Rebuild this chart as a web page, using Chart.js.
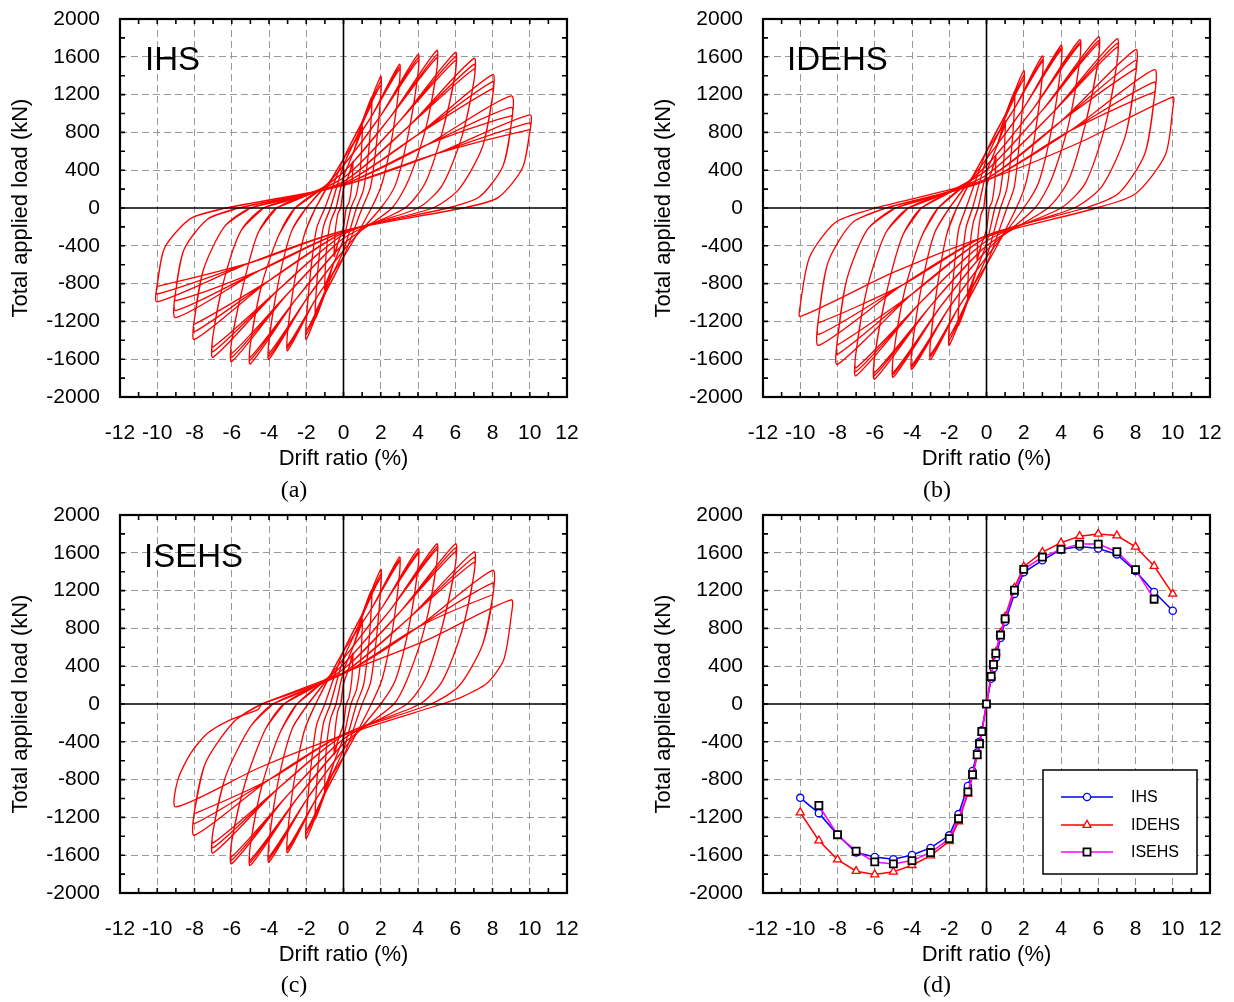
<!DOCTYPE html>
<html><head><meta charset="utf-8">
<script src="https://cdn.jsdelivr.net/npm/chart.js@4.4.1/dist/chart.umd.min.js"></script>
<style>
html,body{margin:0;padding:0;background:#fff}
body{width:1234px;height:1002px;position:relative;overflow:hidden}
canvas{position:absolute}
.cap{position:absolute;font-family:"Liberation Serif","Times New Roman",serif;font-size:24px;line-height:1;transform:translate(-50%,-50%);color:#000}
.nm{position:absolute;font-family:"Liberation Sans",Arial,sans-serif;font-size:33px;line-height:33px;color:#000}
</style></head><body>
<canvas id="ca" width="617" height="500" style="left:0;top:0"></canvas>
<canvas id="cb" width="591" height="500" style="left:643px;top:0"></canvas>
<canvas id="cc" width="617" height="500" style="left:0;top:496px"></canvas>
<canvas id="cd" width="591" height="500" style="left:643px;top:496px"></canvas>
<div class="nm" style="left:145px;top:42px">IHS</div>
<div class="nm" style="left:787px;top:42px">IDEHS</div>
<div class="nm" style="left:144px;top:539px">ISEHS</div>
<div class="cap" style="left:294px;top:489px">(a)</div>
<div class="cap" style="left:937px;top:489px">(b)</div>
<div class="cap" style="left:294px;top:984px">(c)</div>
<div class="cap" style="left:937px;top:984px">(d)</div>
<script>
// ---------- axis tick values ----------
const xTickVals = [-12,-10,-8,-6,-4,-2,0,2,4,6,8,10,12];
const yTickVals = [-2000,-1600,-1200,-800,-400,0,400,800,1200,1600,2000];

// ---------- backbone curves (panel d) ----------
const bbDrift = [-10,-9,-8,-7,-6,-5,-4,-3,-2,-1.5,-1,-0.75,-0.5,-0.375,-0.25,0,0.25,0.375,0.5,0.75,1,1.5,2,3,4,5,6,7,8,9,10];
const bbIHS = [-993,-1155,-1383,-1572,-1618,-1643,-1597,-1523,-1390,-1165,-867,-709,-512,-400,-277,0,267,379,488,698,870,1165,1393,1520,1636,1667,1646,1583,1407,1186,986];
const bbIDEHS = [-1148,-1446,-1646,-1769,-1804,-1776,-1706,-1604,-1453,-1243,-951,-762,-548,-435,-302,0,302,432,548,751,923,1229,1453,1608,1706,1776,1800,1783,1664,1460,1165];
const bbDriftS = [-9,-8,-7,-6,-5,-4,-3,-2,-1.5,-1,-0.75,-0.5,-0.375,-0.25,0,0.25,0.375,0.5,0.75,1,1.5,2,3,4,5,6,7,8,9];
const bbISEHS = [-1074,-1383,-1558,-1671,-1692,-1657,-1572,-1425,-1214,-930,-748,-537,-421,-291,0,291,418,537,730,902,1204,1425,1555,1636,1692,1692,1611,1422,1109];

// ---------- hysteresis key points (x drift %, y load kN) per drift level, first cycle ----------
const ihsLevels = [
 [-0.15,0, 0,200, 0.25,330, 0.5,488, 0.5,430, 0.45,250, 0.3,60, 0.15,0, 0,-200, -0.25,-340, -0.5,-512, -0.5,-450, -0.45,-260, -0.3,-60],
 [-0.4,0, 0,330, 0.5,573, 1,870, 1,760, 0.92,450, 0.7,150, 0.4,0, 0,-330, -0.5,-572, -1,-867, -1,-760, -0.92,-450, -0.7,-150],
 [-0.7,0, 0,450, 0.75,772, 1.5,1165, 1.5,1000, 1.35,600, 1.08,200, 0.7,0, 0,-450, -0.75,-772, -1.5,-1165, -1.5,-1000, -1.35,-600, -1.08,-200],
 [-1,0, 0,520, 1,913, 2,1393, 2,1200, 1.78,700, 1.45,220, 1,0, 0,-520, -1,-912, -2,-1390, -2,-1200, -1.78,-700, -1.45,-220],
 [-1.5,0, 0,520, 1.5,970, 3,1520, 3,1320, 2.65,800, 2.1,280, 1.5,0, 0,-520, -1.5,-966, -3,-1510, -3,-1310, -2.65,-800, -2.1,-280],
 [-2,0, 0,450, 2,979, 4,1625, 4,1420, 3.5,800, 2.8,250, 2,0, 0,-450, -2,-968, -4,-1600, -4,-1400, -3.5,-790, -2.8,-250],
 [-2.6,0, 0,380, 2.5,959, 5,1667, 5,1450, 4.4,830, 3.5,300, 2.6,0, 0,-380, -2.5,-952, -5,-1650, -5,-1440, -4.4,-820, -3.5,-300],
 [-3.6,0, 0,320, 3,917, 6,1646, 6,1420, 5.3,800, 4.4,270, 3.3,0, 0,-320, -3,-907, -6,-1625, -6,-1400, -5.35,-790, -4.6,-270],
 [-4.3,0, 0,280, 3.5,866, 7,1583, 7,1340, 6.35,750, 5.3,240, 4,0, 0,-280, -3.5,-865, -7,-1579, -7,-1340, -6.4,-750, -5.5,-240],
 [-5,0, 0,260, 4,778, 8,1411, 8,1180, 7.45,640, 6.2,200, 4.8,0, 0,-260, -4,-769, -8,-1392, -8,-1170, -7.5,-640, -6.4,-200],
 [-5.6,0, 0,250, 4.5,671, 9,1186, 9,880, 8.55,440, 7.3,118, 5.6,0, 0,-250, -4.5,-660, -9,-1160, -9,-870, -8.55,-435, -7.3,-118],
 [-6.3,0, 0,240, 5,576, 10,986, 10,800, 9.6,420, 8.3,110, 6.4,0, 0,-240, -5,-579, -10,-993, -10,-810, -9.6,-420, -8.2,-110]
];
// peaks of the repeated cycles at each level: [positive, negative]
const ihsRepeats = [
 [[470,-495],[460,-485]], [[840,-840],[820,-820]], [[1120,-1120],[1090,-1095]], [[1340,-1340],[1300,-1300]],
 [[1490,-1480],[1465,-1455]], [[1590,-1570],[1560,-1540]], [[1620,-1610],[1590,-1580]], [[1600,-1580],[1560,-1540]],
 [[1520,-1520],[1470,-1470]], [[1337,-1310],[1263,-1230]], [[1065,-1085],[976,-980]], [[900,-910],[830,-830]]
];

const idehsLevels = [
 [-0.15,0, 0,230, 0.25,373, 0.5,548, 0.5,480, 0.45,280, 0.3,70, 0.15,0, 0,-230, -0.25,-373, -0.5,-548, -0.5,-480, -0.45,-280, -0.3,-70],
 [-0.45,0, 0,380, 0.5,624, 1,923, 1,800, 0.92,470, 0.72,160, 0.45,0, 0,-380, -0.5,-637, -1,-951, -1,-820, -0.92,-480, -0.72,-160],
 [-0.75,0, 0,520, 0.75,839, 1.5,1229, 1.5,1060, 1.35,630, 1.1,210, 0.75,0, 0,-520, -0.75,-845, -1.5,-1243, -1.5,-1070, -1.35,-640, -1.1,-210],
 [-1.1,0, 0,600, 1,984, 2,1453, 2,1250, 1.78,730, 1.5,230, 1.1,0, 0,-600, -1,-984, -2,-1453, -2,-1250, -1.78,-730, -1.5,-230],
 [-1.6,0, 0,600, 1.5,1054, 3,1608, 3,1400, 2.65,840, 2.15,290, 1.6,0, 0,-600, -1.5,-1052, -3,-1604, -3,-1400, -2.65,-840, -2.15,-290],
 [-2,0, 0,520, 2,1060, 4,1720, 4,1500, 3.5,840, 2.8,270, 2,0, 0,-520, -2,-1054, -4,-1706, -4,-1490, -3.5,-840, -2.8,-270],
 [-2.6,0, 0,450, 2.5,1049, 5,1780, 5,1550, 4.4,880, 3.5,310, 2.6,0, 0,-450, -2.5,-1053, -5,-1790, -5,-1560, -4.4,-880, -3.5,-310],
 [-3.5,0, 0,400, 3,1035, 6,1810, 6,1560, 5.3,880, 4.4,290, 3.3,0, 0,-400, -3,-1035, -6,-1810, -6,-1560, -5.35,-880, -4.5,-290],
 [-4.2,0, 0,350, 3.5,998, 7,1790, 7,1530, 6.35,850, 5.3,260, 4,0, 0,-350, -3.5,-991, -7,-1775, -7,-1520, -6.4,-840, -5.4,-260],
 [-4.9,0, 0,310, 4,919, 8,1676, 8,1400, 7.45,760, 6.2,230, 4.7,0, 0,-310, -4,-910, -8,-1655, -8,-1390, -7.5,-755, -6.4,-230],
 [-5.4,0, 0,290, 4.5,818, 9,1464, 9,1150, 8.5,575, 7.1,155, 5.3,0, 0,-290, -4.5,-813, -9,-1453, -9,-1140, -8.5,-570, -7.2,-155],
 [-6,0, 0,300, 5,693, 10,1174, 10,1050, 9.6,560, 8,150, 5.9,0, 0,-300, -5,-682, -10,-1149, -10,-1030, -9.5,-520, -8.1,-150]
];
const idehsRepeats = [
 [[530,-530],[520,-520]], [[890,-915],[870,-895]], [[1190,-1200],[1160,-1170]], [[1400,-1400],[1360,-1360]],
 [[1570,-1570],[1550,-1550]], [[1690,-1680],[1670,-1660]], [[1750,-1760],[1730,-1740]], [[1770,-1770],[1740,-1740]],
 [[1740,-1730],[1700,-1690]], [[1563,-1549],[1475,-1450]], [[1333,-1337],[1227,-1213]], []
];

const isehsLevels = [
 [-0.15,0, 0,210, 0.25,357, 0.5,537, 0.5,470, 0.45,275, 0.3,70, 0.15,0, 0,-210, -0.25,-357, -0.5,-537, -0.5,-470, -0.45,-275, -0.3,-70],
 [-0.4,0, 0,350, 0.5,598, 1,902, 1,780, 0.92,460, 0.7,155, 0.4,0, 0,-350, -0.5,-611, -1,-930, -1,-800, -0.92,-470, -0.7,-160],
 [-0.7,0, 0,480, 0.75,806, 1.5,1204, 1.5,1040, 1.35,620, 1.08,205, 0.7,0, 0,-480, -0.75,-810, -1.5,-1214, -1.5,-1050, -1.35,-625, -1.08,-205],
 [-1,0, 0,560, 1,949, 2,1425, 2,1230, 1.78,720, 1.45,225, 1,0, 0,-560, -1,-949, -2,-1425, -2,-1230, -1.78,-720, -1.45,-225],
 [-1.5,0, 0,560, 1.5,1008, 3,1555, 3,1360, 2.65,810, 2.1,280, 1.5,0, 0,-560, -1.5,-1015, -3,-1572, -3,-1370, -2.65,-815, -2.1,-280],
 [-1.9,0, 0,480, 2,1002, 4,1641, 4,1440, 3.5,800, 2.8,260, 2,0, 0,-480, -2,-1017, -4,-1673, -4,-1460, -3.5,-810, -2.75,-260],
 [-2.5,0, 0,420, 2.5,993, 5,1694, 5,1480, 4.4,840, 3.5,300, 2.7,0, 0,-420, -2.5,-1000, -5,-1708, -5,-1490, -4.35,-840, -3.4,-300],
 [-3.2,0, 0,370, 3,966, 6,1694, 6,1460, 5.3,820, 4.4,270, 3.4,0, 0,-370, -3,-964, -6,-1690, -6,-1450, -5.25,-815, -4.2,-270],
 [-3.8,0, 0,330, 3.5,906, 7,1609, 7,1370, 6.35,770, 5.3,240, 4.1,0, 0,-330, -3.5,-891, -7,-1577, -7,-1340, -6.3,-750, -5.0,-240],
 [-4.4,0, 0,320, 4,813, 8,1415, 8,1120, 7.45,620, 6.2,190, 4.7,0, 0,-320, -4,-802, -8,-1390, -8,-1130, -7.4,-620, -5.9,-190],
 [-4.4,0, 0,330, 4.5,678, 9,1103, 9,927, 8.6,467, 7.7,219, 6.4,78, 5.3,0, 0,-330, -4.5,-672, -9,-1089, -8.9,-806, -8.2,-520, -7.3,-310, -6.1,-170, -4.6,-60]
];
const isehsRepeats = [
 [[520,-520],[510,-510]], [[875,-900],[855,-880]], [[1165,-1175],[1140,-1150]], [[1375,-1375],[1340,-1340]],
 [[1525,-1540],[1505,-1520]], [[1610,-1640],[1590,-1615]], [[1660,-1675],[1635,-1650]], [[1650,-1650],[1610,-1615]],
 [[1550,-1520],[1500,-1470]], [[1280,-1266],[1156,-1160]], []
];

// ---------- helpers ----------
const FONT = '"Liberation Sans", Arial, Helvetica, sans-serif';

// Path for one drift level: first cycle from the key points, repeated cycles with their own peak values.
function levelPath(pts, reps) {
  const n = pts.length / 2;
  const ys = [];
  for (let i = 0; i < n; i++) ys.push(pts[2 * i + 1]);
  const iMax = ys.indexOf(Math.max(...ys));
  const iMin = ys.indexOf(Math.min(...ys));
  const cycles = [null].concat(reps);
  const out = [];
  cycles.forEach(c => {
    for (let i = 0; i < n; i++) {
      let y = ys[i];
      if (c && i === iMax) y = c[0];
      if (c && i === iMin) y = c[1];
      out.push({x: pts[2 * i], y: y});
    }
  });
  out.push({x: pts[0], y: pts[1]});
  return out;
}

function gridColor(ctx) {
  const v = ctx.tick ? ctx.tick.value : null;
  if (v === 0 || Math.abs(v) === 12 || Math.abs(v) === 2000) return 'rgba(0,0,0,0)';
  return '#9a9a9a';
}

function drawZero(chart) {
  const {ctx, chartArea: a, scales: {x, y}} = chart;
  const x0 = x.getPixelForValue(0), y0 = y.getPixelForValue(0);
  ctx.save();
  ctx.strokeStyle = '#000'; ctx.lineWidth = 1.6;
  ctx.beginPath();
  ctx.moveTo(x0, a.top); ctx.lineTo(x0, a.bottom);
  ctx.moveTo(a.left, y0); ctx.lineTo(a.right, y0);
  ctx.stroke();
  ctx.restore();
}

function drawFrame(chart) {
  const {ctx, chartArea: a, scales: {x, y}} = chart;
  ctx.save();
  ctx.strokeStyle = '#000'; ctx.lineWidth = 1.6;
  ctx.beginPath();
  for (let v = -11; v <= 11; v++) {
    const p = x.getPixelForValue(v);
    ctx.moveTo(p, a.bottom); ctx.lineTo(p, a.bottom - 5);
    ctx.moveTo(p, a.top); ctx.lineTo(p, a.top + 5);
  }
  for (let v = -1800; v <= 1800; v += 200) {
    const p = y.getPixelForValue(v);
    ctx.moveTo(a.left, p); ctx.lineTo(a.left + 5, p);
    ctx.moveTo(a.right, p); ctx.lineTo(a.right - 5, p);
  }
  ctx.stroke();
  ctx.lineWidth = 2.2;
  ctx.strokeRect(a.left, a.top, a.right - a.left, a.bottom - a.top);
  ctx.restore();
}

function marker(ctx, style, r, x, y, stroke, fill, bw) {
  ctx.save();
  ctx.strokeStyle = stroke; ctx.fillStyle = fill; ctx.lineWidth = bw;
  Chart.helpers.drawPoint(ctx, {pointStyle: style, radius: r, rotation: 0, borderWidth: bw}, x, y);
  ctx.restore();
}

const legendItems = [
  {t: 'IHS', c: '#0000ff', s: 'circle', r: 3.6, mc: '#0000ff', bw: 1.3},
  {t: 'IDEHS', c: '#ff0000', s: 'triangle', r: 4.6, mc: '#ff0000', bw: 1.3},
  {t: 'ISEHS', c: '#ff00ff', s: 'rect', r: 5, mc: '#000000', bw: 1.8}
];

function drawLegend(chart) {
  const ctx = chart.ctx;
  ctx.save();
  ctx.fillStyle = '#fff';
  ctx.fillRect(400, 274, 154, 104);
  ctx.strokeStyle = '#000'; ctx.lineWidth = 1.5;
  ctx.strokeRect(400, 274, 154, 104);
  const rows = [301, 329, 356];
  legendItems.forEach((it, i) => {
    const yy = rows[i];
    ctx.strokeStyle = it.c; ctx.lineWidth = 1.5;
    ctx.beginPath(); ctx.moveTo(418, yy); ctx.lineTo(470, yy); ctx.stroke();
    marker(ctx, it.s, it.r, 444, yy, it.mc, '#fff', it.bw);
    ctx.fillStyle = '#000';
    ctx.font = '16px ' + FONT;
    ctx.textBaseline = 'middle'; ctx.textAlign = 'left';
    ctx.fillText(it.t, 488, yy + 1);
  });
  ctx.restore();
}

const decor = {
  id: 'decor',
  beforeDatasetsDraw(chart, args, opts) { if (opts.zeroUnder) drawZero(chart); },
  afterDatasetsDraw(chart, args, opts) {
    if (!opts.zeroUnder) drawZero(chart);
    drawFrame(chart);
    if (opts.legend) drawLegend(chart);
  }
};

function options(rightPad, zeroUnder, legend) {
  return {
    responsive: false, animation: false, events: [],
    layout: {padding: {left: 0, right: rightPad, top: 19, bottom: 0}},
    plugins: {legend: {display: false}, tooltip: {enabled: false}, decor: {zeroUnder: zeroUnder, legend: legend}},
    elements: {point: {radius: 0}},
    scales: {
      x: {
        type: 'linear', min: -12, max: 12,
        afterBuildTicks(s) { s.ticks = xTickVals.map(v => ({value: v})); },
        ticks: {color: '#000', font: {family: FONT, size: 21}, padding: 24, maxRotation: 0, autoSkip: false,
                callback: v => String(v)},
        grid: {drawTicks: false, color: gridColor, lineWidth: 1},
        border: {display: false, dash: [7, 4]},
        title: {display: true, text: 'Drift ratio (%)', color: '#000', font: {family: FONT, size: 22}, padding: {top: 0, bottom: 28}},
        afterFit(s) { s.height = 103; s.paddingLeft = 0; s.paddingRight = 0; }
      },
      y: {
        type: 'linear', min: -2000, max: 2000,
        afterBuildTicks(s) { s.ticks = yTickVals.map(v => ({value: v})); },
        ticks: {color: '#000', font: {family: FONT, size: 21}, padding: 20, autoSkip: false,
                callback: v => String(v)},
        grid: {drawTicks: false, color: gridColor, lineWidth: 1},
        border: {display: false, dash: [7, 4]},
        title: {display: true, text: 'Total applied load (kN)', color: '#000', font: {family: FONT, size: 22}, padding: {top: 8, bottom: 0}},
        afterFit(s) { s.width = 120; s.paddingTop = 0; s.paddingBottom = 0; }
      }
    }
  };
}

function loopChart(id, levels, repeats, rightPad) {
  const datasets = levels.map((pts, i) => ({
    data: levelPath(pts, repeats[i]),
    borderColor: '#ff0000', borderWidth: 1.3, tension: 0.25, pointRadius: 0, fill: false
  }));
  new Chart(document.getElementById(id), {
    type: 'line', data: {datasets: datasets},
    options: options(rightPad, false, false), plugins: [decor]
  });
}

loopChart('ca', ihsLevels, ihsRepeats, 50);
loopChart('cb', idehsLevels, idehsRepeats, 24);
loopChart('cc', isehsLevels, isehsRepeats, 50);

const pairs = (xs, ys) => xs.map((x, i) => ({x: x, y: ys[i]}));
new Chart(document.getElementById('cd'), {
  type: 'line',
  data: {datasets: [
    {label: 'IHS', data: pairs(bbDrift, bbIHS), borderColor: '#0000ff', borderWidth: 1.5, tension: 0,
     pointStyle: 'circle', pointRadius: 3.6, pointBorderColor: '#0000ff', pointBackgroundColor: '#fff', pointBorderWidth: 1.3, order: 2},
    {label: 'IDEHS', data: pairs(bbDrift, bbIDEHS), borderColor: '#ff0000', borderWidth: 1.5, tension: 0,
     pointStyle: 'triangle', pointRadius: 4.6, pointBorderColor: '#ff0000', pointBackgroundColor: '#fff', pointBorderWidth: 1.3, order: 1},
    {label: 'ISEHS', data: pairs(bbDriftS, bbISEHS), borderColor: '#ff00ff', borderWidth: 1.5, tension: 0,
     pointStyle: 'rect', pointRadius: 5, pointBorderColor: '#000', pointBackgroundColor: '#fff', pointBorderWidth: 1.8, order: 0}
  ]},
  options: options(24, true, true), plugins: [decor]
});
</script>
</body></html>
